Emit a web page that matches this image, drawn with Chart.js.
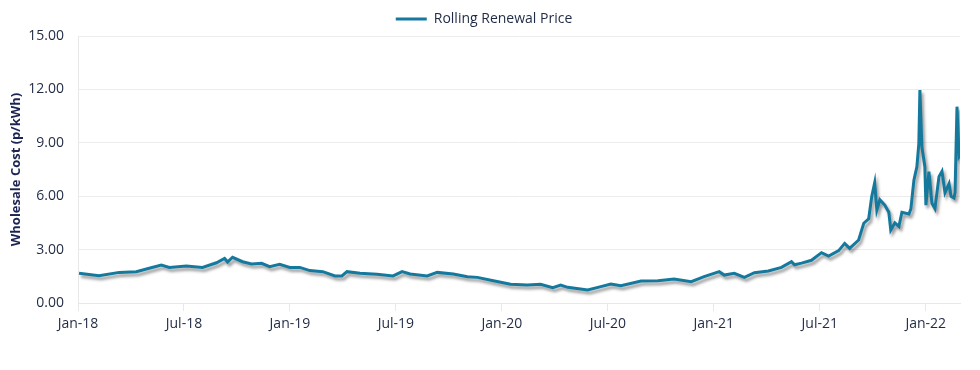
<!DOCTYPE html>
<html>
<head>
<meta charset="utf-8">
<title>Rolling Renewal Price</title>
<script src="https://cdn.jsdelivr.net/npm/chart.js@4/dist/chart.umd.min.js"></script>
<style>
	body { margin: 0; background: #ffffff; }
	#line-chart { display: block; }
</style>
</head>
<body>
<canvas id="line-chart" width="980" height="370"></canvas>
<script>
// months since Jan-18 and price (p/kWh)
var months = [0.06, 1.19, 2.33, 3.30, 4.03, 4.72, 5.17, 6.14, 7.05, 7.84, 8.30, 8.47, 8.75, 9.32, 9.83, 10.40,
	10.85, 11.42, 11.99, 12.56, 13.13, 13.86, 14.55, 14.94, 15.23, 15.97, 16.93, 17.84, 18.35, 18.81, 19.77,
	20.34, 21.25, 22.05, 22.61, 23.52, 24.49, 25.45, 26.19, 26.88, 27.33, 27.73, 28.86, 29.60, 30.17, 30.74,
	31.88, 32.84, 33.75, 34.72, 35.45, 36.31, 36.59, 37.16, 37.73, 38.30, 39.09, 39.83, 40.40, 40.57, 40.97,
	41.53, 42.10, 42.50, 43.07, 43.41, 43.69, 44.20, 44.49, 44.77, 44.94, 45.11, 45.23, 45.40, 45.68, 45.91,
	46.02, 46.25, 46.48, 46.65, 47.05, 47.16, 47.33, 47.50, 47.61, 47.67, 47.78, 47.95, 48.01, 48.18, 48.35,
	48.52, 48.75, 48.92, 49.09, 49.32, 49.43, 49.60, 49.66, 49.77, 49.89, 49.94];
var prices = [1.67, 1.53, 1.72, 1.76, 1.95, 2.13, 2.00, 2.08, 2.00, 2.26, 2.50, 2.30, 2.57, 2.32, 2.19, 2.23,
	2.04, 2.17, 2.00, 2.00, 1.82, 1.76, 1.52, 1.52, 1.76, 1.67, 1.61, 1.52, 1.76, 1.63, 1.52,
	1.72, 1.63, 1.48, 1.44, 1.25, 1.05, 1.01, 1.05, 0.86, 1.01, 0.88, 0.73, 0.92, 1.07, 0.97,
	1.24, 1.25, 1.35, 1.20, 1.48, 1.76, 1.57, 1.67, 1.44, 1.70, 1.80, 2.00, 2.32, 2.15, 2.24,
	2.40, 2.83, 2.64, 2.94, 3.35, 3.07, 3.54, 4.48, 4.73, 5.97, 6.76, 5.22, 5.80, 5.50, 5.10,
	4.10, 4.50, 4.30, 5.10, 5.00, 5.30, 6.90, 7.66, 8.97, 11.97, 8.78, 7.66, 5.50, 7.38, 5.60,
	5.30, 7.10, 7.40, 6.20, 6.70, 6.00, 5.90, 6.20, 11.03, 8.22, 8.30];

var tickMonths = [0, 6, 12, 18, 24, 30, 36, 42, 48];
var tickLabels = ["Jan-18", "Jul-18", "Jan-19", "Jul-19", "Jan-20", "Jul-20", "Jan-21", "Jul-21", "Jan-22"];

window.addEventListener('load', function(event){
	var points = [];
	for (var i = 0; i < months.length; i++) {
		points.push({ x: months[i], y: prices[i] });
	}

	// soft drop shadow under the line
	var shadow = {
		id: 'shadow',
		beforeDatasetDraw: function(chart){
			var ctx = chart.ctx;
			ctx.save();
			ctx.shadowColor = 'rgba(0,0,0,0.4)';
			ctx.shadowBlur = 3;
			ctx.shadowOffsetX = 2;
			ctx.shadowOffsetY = 3;
		},
		afterDatasetDraw: function(chart){
			chart.ctx.restore();
		}
	};

	var context = document.getElementById('line-chart').getContext('2d');
	var chart = new Chart(context, {
		type: 'line',
		data: {
			datasets: [{
				label: "Rolling Renewal Price",
				data: points,
				borderColor: "#15799e",
				backgroundColor: "#15799e",
				borderWidth: 3,
				pointRadius: 0,
				tension: 0,
				fill: false
			}]
		},
		options: {
			responsive: false,
			animation: false,
			layout: { padding: { left: 8, right: 20, top: 2, bottom: 0 } },
			plugins: {
				legend: {
					position: 'top',
					labels: {
						usePointStyle: true,
						pointStyle: 'line',
						pointStyleWidth: 31,
						boxHeight: 3,
						color: '#1f2a44',
						font: { family: 'Open Sans', size: 14 },
						padding: 10
					}
				},
				tooltip: { enabled: false }
			},
			scales: {
				x: {
					type: 'linear',
					min: 0,
					max: 49.94,
					afterBuildTicks: function(scale){
						scale.ticks = tickMonths.map(function(m){ return { value: m }; });
					},
					afterFit: function(scale){ scale.height = 67; },
					ticks: {
						autoSkip: false,
						maxRotation: 0,
						padding: 5,
						color: '#1f2a44',
						font: { family: 'Open Sans', size: 14 },
						callback: function(value){
							var i = tickMonths.indexOf(value);
							return i >= 0 ? tickLabels[i] : '';
						}
					},
					grid: { drawOnChartArea: false, color: '#e8e8e8', tickLength: 8 },
					border: { color: '#e8e8e8' }
				},
				y: {
					min: 0,
					max: 15,
					afterFit: function(scale){ scale.width = 70; },
					ticks: {
						stepSize: 3,
						padding: 14,
						color: '#1f2a44',
						font: { family: 'Open Sans', size: 14 },
						callback: function(value){ return value.toFixed(2); }
					},
					grid: { color: '#ececec', drawTicks: false },
					border: { color: '#e8e8e8' },
					title: {
						display: true,
						text: 'Wholesale Cost (p/kWh)',
						color: '#1b2452',
						font: { family: 'Open Sans', size: 13, weight: 'bold' },
						padding: { top: 0, bottom: 4 }
					}
				}
			}
		},
		plugins: [shadow]
	});
});
</script>
</body>
</html>
